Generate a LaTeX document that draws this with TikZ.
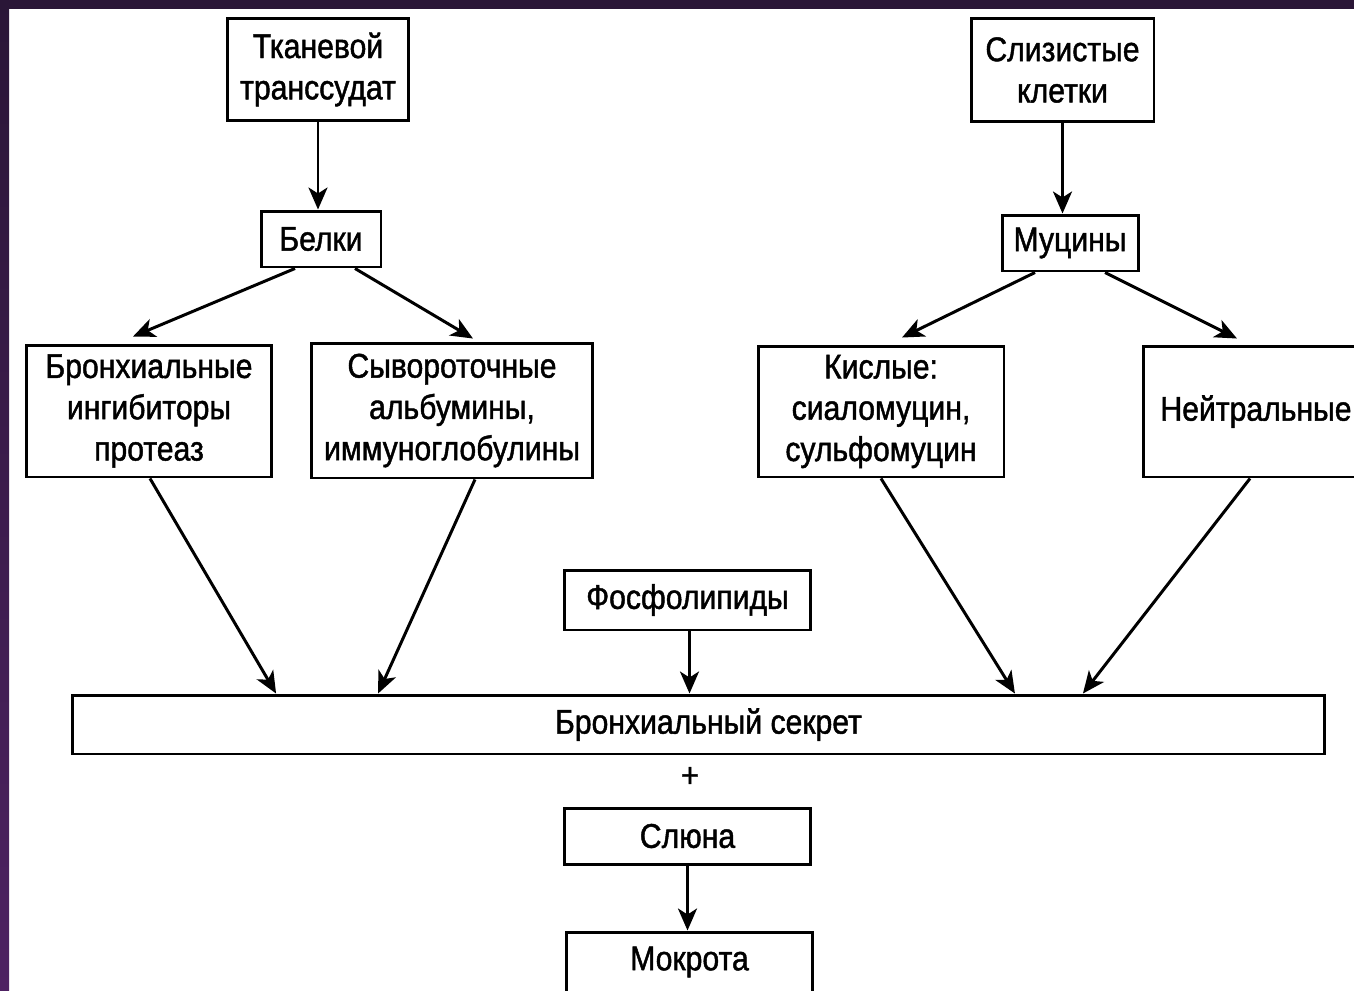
\documentclass[tikz,border=0pt]{standalone}
\usepackage{fontspec}
\setmainfont{Liberation Sans}[FakeStretch=0.88,FakeBold=1.3]
\usetikzlibrary{arrows.meta}

\definecolor{framedark}{HTML}{2A1637}
\definecolor{framelight}{HTML}{4E2262}

\tikzset{
  blok/.style={draw, line width=1.7pt, align=center, inner sep=0pt,
    font=\fontsize{19.5}{23.5}\selectfont},
  arr/.style={line width=1.7pt, -{Stealth[length=0.44cm,width=0.38cm,inset=0.12cm]}}
}

\begin{document}
\begin{tikzpicture}[x=0.02cm,y=-0.02cm]

\useasboundingbox (0,0) rectangle (1354,990);
\fill[white] (0,0) rectangle (1354,990);
\shade[top color=framedark, bottom color=framelight] (0,0) rectangle (9,990);
\fill[framedark] (0,0) rectangle (1354,9);

% upper sources
\node[blok, minimum width=3.64cm, minimum height=2.06cm] (tkan) at (318,69.5) {Тканевой\\транссудат};
\node[blok, minimum width=3.66cm, minimum height=2.08cm] (sliz) at (1062.5,70) {Слизистые\\клетки};

\node[blok, minimum width=2.4cm, minimum height=1.12cm] (belki) at (321,239) {Белки};
\node[blok, minimum width=2.72cm, minimum height=1.12cm] (mucin) at (1070,243) {Муцины};

% components
\node[blok, minimum width=4.92cm, minimum height=2.64cm] (bronh) at (149,411) {Бронхиальные\\ингибиторы\\протеаз};
\node[blok, minimum width=5.64cm, minimum height=2.7cm] (syvor) at (452,410.5) {Сывороточные\\альбумины,\\иммуноглобулины};
\node[blok, minimum width=4.92cm, minimum height=2.62cm] (kisl) at (881,411.5) {Кислые:\\сиаломуцин,\\сульфомуцин};
\node[blok, minimum width=4.52cm, minimum height=2.62cm] (neitr) at (1256,411.5) {Нейтральные};

\node[blok, minimum width=4.94cm, minimum height=1.2cm] (fosf) at (687.5,600) {Фосфолипиды};

% secretion
\node[blok, minimum width=25.06cm, minimum height=1.18cm] (sekret) at (698.5,724.5) {\hspace{0.4cm}Бронхиальный секрет};
\node[font=\fontsize{19.5}{23.5}\selectfont] (plus) at (690,777) {+};
\node[blok, minimum width=4.94cm, minimum height=1.12cm] (sluna) at (687.5,836) {Слюна};
\node[blok, minimum width=4.94cm, minimum height=1.2cm] (mokr) at (689.5,962) {Мокрота};

\draw[arr] (tkan.south) -- (tkan.south |- belki.north);
\draw[arr] (sliz.south) -- (sliz.south |- mucin.north);

\draw[arr] ([xshift=-0.52cm]belki.south) -- ([xshift=-0.32cm,yshift=0.14cm]bronh.north);
\draw[arr] ([xshift=0.68cm]belki.south) -- ([xshift=0.42cm,yshift=0.06cm]syvor.north);
\draw[arr] ([xshift=-0.7cm]mucin.south) -- ([xshift=0.42cm,yshift=0.14cm]kisl.north);
\draw[arr] ([xshift=0.7cm]mucin.south) -- ([xshift=-0.38cm,yshift=0.12cm]neitr.north);

\draw[arr] ([xshift=0.02cm]bronh.south) -- ([xshift=-8.45cm]sekret.north);
\draw[arr] ([xshift=0.46cm]syvor.south) -- ([xshift=-6.41cm]sekret.north);
\draw[arr] ([xshift=0.04cm]fosf.south) -- ([xshift=0.04cm]fosf.south |- sekret.north);
\draw[arr] (kisl.south) -- ([xshift=6.33cm]sekret.north);
\draw[arr] ([xshift=-0.12cm]neitr.south) -- ([xshift=7.69cm]sekret.north);

\draw[arr] (sluna.south) -- (sluna.south |- mokr.north);

\end{tikzpicture}
\end{document}
